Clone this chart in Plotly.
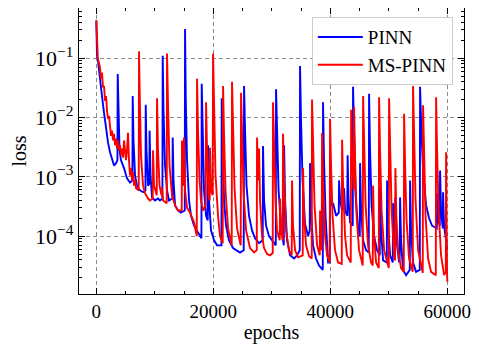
import plotly.graph_objects as go

# 训练损失曲线数据
pinn_epochs = [
    0, 120, 290, 630, 970, 1320, 1660, 2000, 2340, 2680, 3030, 3370, 3610, 3660, 3800, 3970,
    4220, 4740, 5250, 5760, 6170, 6220, 6360, 6620, 6960, 7470, 7990, 8400, 8450, 8580, 8840,
    9060, 9110, 9270, 9520, 10030, 10540, 10880, 11300, 11350, 11490, 11750, 12090, 12430,
    13010, 13060, 13200, 13460, 13970, 14480, 15120, 15170, 15300, 15510, 15850, 16190, 16710,
    17220, 17970, 18020, 18160, 18420, 18760, 19050, 19100, 19270, 19610, 20130, 20640, 21390,
    21440, 21580, 21840, 22180, 22690, 23370, 24060, 24570, 25200, 25260, 25430, 25680, 26110,
    26620, 27140, 27820, 28450, 28500, 28680, 29020, 29530, 30050, 30680, 30730, 30900, 31160,
    31580, 32050, 32100, 32270, 32610, 33120, 33810, 34320, 34780, 34830, 35000, 35260, 35690,
    36200, 36490, 36540, 36710, 37050, 37570, 38080, 38720, 38760, 38930, 39190, 39620, 39910,
    39960, 40130, 40480, 40990, 41450, 41500, 41680, 42020, 42310, 42360, 42530, 42900, 42960,
    43130, 43380, 43840, 43890, 44070, 44320, 44750, 45040, 45090, 45260, 45610, 46120, 46580,
    46630, 46800, 47060, 47490, 48000, 48460, 48510, 48680, 49030, 49660, 49710, 49880, 50230,
    50680, 50740, 50910, 51130, 51330, 51760, 51880, 51930, 52100, 52440, 52960, 53590, 53640,
    53810, 54150, 54670, 55300, 55350, 55520, 55860, 56380, 56890, 57400, 58210, 58260, 58430,
    58720, 58770, 58940, 59230, 59280, 59450, 59800, 59970,
]
pinn_loss = [
    0.42, 0.11, 0.09, 0.050, 0.023, 0.012, 0.0065, 0.0038, 0.0026, 0.0019, 0.00155, 0.0017,
    0.0019, 0.054, 0.0088, 0.0028, 0.0019, 0.0014, 0.00094, 0.0008, 0.00087, 0.023, 0.0041,
    0.00105, 0.0007, 0.00059, 0.00055, 0.00059, 0.0164, 0.0028, 0.00071, 0.00077, 0.006,
    0.00105, 0.00045, 0.0004, 0.00043, 0.0004, 0.00043, 0.11, 0.013, 0.00155, 0.00059, 0.0004,
    0.00043, 0.0046, 0.00087, 0.00033, 0.00027, 0.00025, 0.00027, 0.31, 0.019, 0.0019, 0.0004,
    0.00022, 0.00015, 0.00012, 9.2e-5, 0.037, 0.0049, 0.00059, 0.00022, 0.000185, 0.0034,
    0.0004, 0.000125, 8.5e-5, 7e-5, 7e-5, 0.021, 0.0028, 0.0004, 0.00015, 8.5e-5, 6.3e-5,
    5.8e-5, 5.3e-5, 5.8e-5, 0.034, 0.006, 0.00071, 0.00022, 0.000125, 9.2e-5, 7.6e-5, 8.5e-5,
    0.0033, 0.0004, 0.00015, 0.0001, 8.5e-5, 7e-5, 0.03, 0.0041, 0.00059, 0.00015, 7e-5,
    0.0034, 0.0004, 8.5e-5, 4.75e-5, 4.2e-5, 4.75e-5, 5.8e-5, 0.074, 0.0088, 0.00087, 0.00016,
    0.0001, 0.000125, 0.0017, 0.00027, 7e-5, 4.2e-5, 3.2e-5, 2.7e-5, 0.018, 0.0019, 0.00022,
    3.6e-5, 3.6e-5, 0.00049, 0.00033, 0.00036, 0.00022, 0.00025, 0.00087, 0.0004, 0.00027,
    0.00033, 0.00064, 0.00027, 0.00022, 0.0023, 0.0004, 0.00017, 0.00015, 0.033, 0.0041,
    0.00049, 0.000135, 0.0001, 0.0017, 0.00027, 8.5e-5, 5.8e-5, 5.3e-5, 0.025, 0.0028,
    0.00033, 0.0001, 5.8e-5, 4.75e-5, 0.00066, 0.000125, 3.9e-5, 3.6e-5, 0.00087, 0.00015,
    4.75e-5, 3.6e-5, 0.00036, 7e-5, 0.00045, 8.5e-5, 3.6e-5, 4.75e-5, 0.00045, 8.5e-5, 2.7e-5,
    2.2e-5, 2.7e-5, 0.00087, 0.000125, 3.6e-5, 2.5e-5, 2.7e-5, 0.033, 0.0088, 0.00128,
    0.00033, 0.0002, 0.00015, 0.000135, 0.00053, 0.000185, 0.00015, 0.00128, 0.00027,
    0.000135, 0.00055, 0.00015, 8.5e-5, 5.8e-5,
]

mspinn_epochs = [
    0, 120, 260, 460, 630, 800, 970, 1150, 1320, 1490, 1660, 1830, 2000, 2170, 2340, 2510,
    2680, 2860, 3030, 3200, 3370, 3540, 3710, 3880, 4050, 4220, 4390, 4570, 4740, 4910, 5080,
    5250, 5420, 5590, 5760, 5930, 6110, 6280, 6450, 6620, 6790, 7250, 7300, 7440, 7640, 7990,
    8330, 8840, 9180, 9640, 9700, 9870, 10330, 10380, 10550, 10810, 11150, 11230, 11410, 12040,
    12090, 12260, 12520, 12940, 13460, 13970, 14600, 14650, 14830, 14950, 14990, 15170, 15510,
    16020, 16710, 17170, 17220, 17390, 17650, 17900, 18250, 18710, 18760, 18930, 19190, 19390,
    19440, 19610, 19900, 19960, 20130, 20380, 20810, 21150, 21610, 21670, 21840, 22090, 22520,
    23150, 23200, 23370, 23630, 24060, 24690, 24740, 24910, 25170, 25600, 26280, 26970, 27430,
    27480, 27650, 27770, 27820, 27990, 28330, 28680, 29190, 29700, 30160, 30210, 30380, 30640,
    30900, 31360, 31410, 31580, 31870, 31920, 32100, 32440, 32950, 33410, 33460, 33630, 33980,
    34490, 35290, 35340, 35520, 35860, 36370, 36830, 36880, 37050, 37310, 37740, 38200, 38250,
    38420, 38540, 38590, 38760, 39110, 39450, 39910, 39960, 40130, 40390, 40810, 41330, 41960,
    42020, 42190, 42530, 42870, 43500, 43560, 43730, 44020, 44070, 44240, 44500, 44920, 45550,
    45610, 45780, 46040, 46460, 46970, 47260, 47320, 47490, 47830, 48290, 48340, 48510, 48770,
    49200, 50000, 50050, 50220, 50480, 50910, 51080, 51130, 51300, 51590, 52100, 52570, 52620,
    52790, 53040, 53470, 54100, 54150, 54320, 54580, 55010, 55810, 55860, 56030, 56290, 56720,
    57230, 58040, 58090, 58260, 58520, 58940, 59460, 59750, 59800, 59890, 59970, 60020,
]
mspinn_loss = [
    0.44, 0.13, 0.10, 0.083, 0.069, 0.045, 0.057, 0.032, 0.034, 0.019, 0.023, 0.013, 0.0095,
    0.0107, 0.0073, 0.0049, 0.006, 0.0041, 0.0053, 0.0034, 0.0044, 0.003, 0.0041, 0.0028,
    0.0034, 0.0023, 0.003, 0.0021, 0.0041, 0.0023, 0.0019, 0.0028, 0.0055, 0.0019, 0.00105,
    0.0014, 0.00087, 0.0012, 0.00071, 0.00087, 0.00064, 0.00059, 0.13, 0.019, 0.0023, 0.00071,
    0.00053, 0.00043, 0.0004, 0.00043, 0.0028, 0.00071, 0.00049, 0.021, 0.0028, 0.00071,
    0.00049, 0.00066, 0.0004, 0.00036, 0.12, 0.016, 0.00155, 0.00049, 0.00033, 0.00027,
    0.00027, 0.0041, 0.00071, 0.00087, 0.0046, 0.00059, 0.0003, 0.00025, 0.00017, 0.0001,
    0.045, 0.006, 0.00087, 0.0004, 0.00027, 0.00033, 0.018, 0.0028, 0.00049, 0.0004, 0.0031,
    0.00059, 0.00049, 0.12, 0.013, 0.00105, 0.00022, 0.0001, 7.6e-5, 0.034, 0.0049, 0.00059,
    0.000135, 7e-5, 0.04, 0.006, 0.00064, 0.000135, 7e-5, 0.026, 0.0041, 0.00055, 0.000125,
    6.3e-5, 5.3e-5, 5.8e-5, 0.0046, 0.00087, 0.00105, 0.003, 0.0004, 0.0001, 6.3e-5, 5e-5,
    4.75e-5, 5.2e-5, 0.018, 0.0028, 0.0004, 0.000125, 8.5e-5, 0.00043, 0.000125, 8.5e-5,
    0.0053, 0.00087, 0.000125, 5.8e-5, 4.75e-5, 0.00087, 0.00015, 5.8e-5, 4.4e-5, 4.75e-5,
    0.0014, 0.00022, 7e-5, 4.6e-5, 4.2e-5, 0.02, 0.0028, 0.00033, 7e-5, 4.75e-5, 0.00027,
    7e-5, 5.8e-5, 0.0055, 0.00087, 0.0001, 4.75e-5, 3.6e-5, 0.0095, 0.00155, 0.00022, 5.8e-5,
    3.6e-5, 3.4e-5, 0.0042, 0.00071, 0.0001, 4.75e-5, 3.6e-5, 0.0135, 0.0019, 0.00059, 0.015,
    0.0019, 0.00022, 5.8e-5, 3.2e-5, 0.023, 0.0034, 0.00033, 7e-5, 3.6e-5, 3.2e-5, 0.00071,
    0.0001, 3.6e-5, 2.9e-5, 0.022, 0.0028, 0.00027, 5.8e-5, 2.9e-5, 0.021, 0.0028, 0.00027,
    4.75e-5, 3.9e-5, 0.0014, 0.00022, 5.8e-5, 2.9e-5, 2.5e-5, 0.0116, 0.00155, 0.000185,
    4.2e-5, 2.5e-5, 0.034, 0.0049, 0.0004, 5.8e-5, 2.4e-5, 0.016, 0.0019, 0.00022, 4.2e-5,
    2.5e-5, 2.2e-5, 0.022, 0.0028, 0.00027, 4.75e-5, 2.2e-5, 2.5e-5, 0.0026, 0.000125, 2.2e-5,
    1.7e-5,
]

y_major = [1e-4, 1e-3, 1e-2, 1e-1]
y_major_text = ["10<sup>−4</sup>", "10<sup>−3</sup>", "10<sup>−2</sup>", "10<sup>−1</sup>"]
y_minor = [m * 10.0 ** e for e in range(-5, 0) for m in range(2, 10)]

fig = go.Figure()
fig.add_trace(go.Scatter(
    x=pinn_epochs, y=pinn_loss, mode="lines", name="PINN",
    line=dict(color="#0000ff", width=1.9)
))
fig.add_trace(go.Scatter(
    x=mspinn_epochs, y=mspinn_loss, mode="lines", name="MS-PINN",
    line=dict(color="#ff0000", width=1.9)
))

axis_style = dict(
    showline=True, linecolor="black", linewidth=1.3, mirror="allticks",
    ticks="inside", ticklen=6, tickwidth=1, tickcolor="black",
    showgrid=True, gridcolor="#8a8a8a", griddash="4px,3px", gridwidth=0.8,
    zeroline=False, automargin=False,
    tickfont=dict(size=19, color="black"),
)

fig.update_xaxes(
    **axis_style,
    range=[-2960, 62860],
    tickvals=[0, 20000, 40000, 60000],
    ticktext=["0", "20000", "40000", "60000"],
    minor=dict(ticks="inside", ticklen=3, tickcolor="black", dtick=5000, showgrid=False),
    title=dict(text="epochs", font=dict(size=20, color="black"), standoff=4),
)
fig.update_yaxes(
    **axis_style,
    type="log",
    range=[-4.975, -0.155],
    tickvals=y_major,
    ticktext=y_major_text,
    minor=dict(ticks="inside", ticklen=3, tickcolor="black", tickvals=y_minor, showgrid=False),
    title=dict(text="loss", font=dict(size=20, color="black"), standoff=4),
)
fig.update_yaxes(tickfont=dict(size=22, color="black"))

# 页面自带8px边距，所以画布缩小8px
fig.update_layout(
    width=471, height=343,
    margin=dict(l=71, r=15, t=0, b=57),
    paper_bgcolor="white", plot_bgcolor="white",
    font=dict(family="Liberation Serif, DejaVu Serif, serif", color="black"),
    legend=dict(
        x=0.971, y=0.968, xanchor="right", yanchor="top",
        bgcolor="white", bordercolor="#cccccc", borderwidth=1,
        font=dict(size=19), itemwidth=45, tracegroupgap=0,
    ),
)

fig.write_html("out.html")
